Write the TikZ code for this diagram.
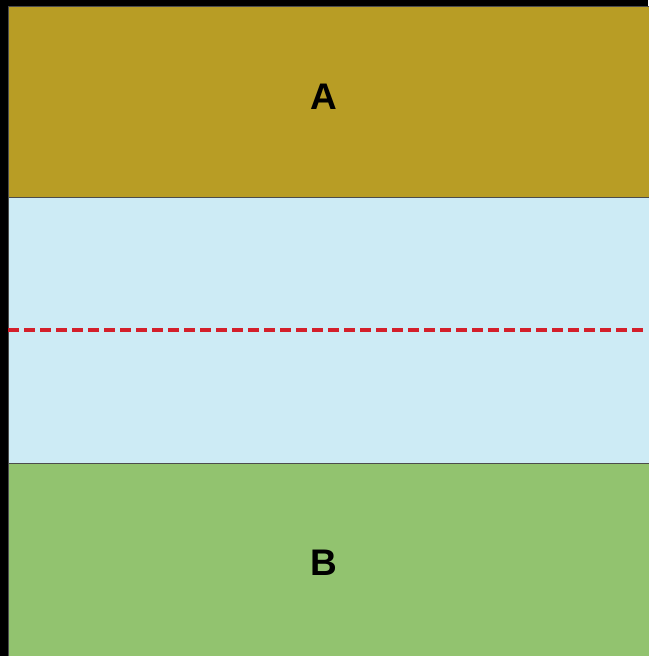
\documentclass[tikz,border=0pt]{standalone}
\usepackage{fontspec}
\setmainfont{Liberation Sans}
\begin{document}
\begin{tikzpicture}[x=1pt,y=-1pt,
  band/.style={draw=black!70,line width=0.8pt},
  lbl/.style={font=\bfseries\fontsize{37}{37}\selectfont,text=black}]
\useasboundingbox (0,0) rectangle (648,656);
\fill[black] (0,0) rectangle (648,656);
\definecolor{gold}{HTML}{B89D25}
\definecolor{sky}{HTML}{CDEBF5}
\definecolor{leaf}{HTML}{92C36F}
\definecolor{dashred}{HTML}{D41F2A}
\filldraw[fill=sky,band] (8,197) rectangle (660,463);
\filldraw[fill=gold,band] (8,6) rectangle (660,197);
\filldraw[fill=leaf,band] (8,463) rectangle (660,670);
\coordinate (dl) at (8,330);
\coordinate (dr) at (648,330);
\draw[dashred,line width=3.6pt,dash pattern=on 11pt off 5pt] (dl) -- (dr);
\node[lbl] (A) at (324,97) {A};
\node[lbl] (B) at (324,563) {B};
\end{tikzpicture}
\end{document}
